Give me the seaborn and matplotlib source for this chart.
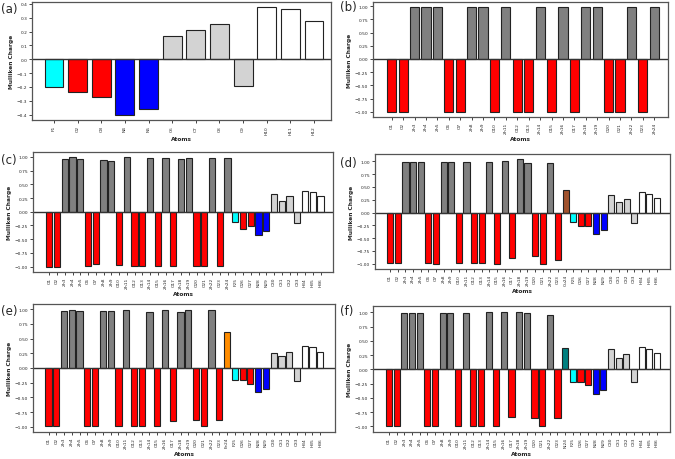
"""
Mulliken charges per atom, six panels
"""
import pandas as pd
import seaborn as sns
import matplotlib.pyplot as plt

# atom labels
atoms_a = ['F1', 'O2', 'O3', 'N4', 'N5', 'C6', 'C7', 'C8', 'C9', 'H10', 'H11', 'H12']
atoms_b = ['O1', 'O2', 'Zn3', 'Zn4', 'Zn5', 'O6', 'O7', 'Zn8', 'Zn9', 'O10', 'Zn11', 'O12',
           'O13', 'Zn14', 'O15', 'Zn16', 'O17', 'Zn18', 'Zn19', 'O20', 'O21', 'Zn22', 'O23', 'Zn24']
tail = ['F25', 'O26', 'O27', 'N28', 'N29', 'C30', 'C31', 'C32', 'C33', 'H34', 'H35', 'H36']
atoms_c = atoms_b + tail
atoms_d = atoms_b[:-1] + ['Cu24'] + tail
atoms_e = atoms_b[:-1] + ['Fe24'] + tail
atoms_f = atoms_b[:-1] + ['Ni24'] + tail

# charges
charge_a = [-0.20, -0.24, -0.27, -0.40, -0.36, 0.17, 0.21, 0.255, -0.19, 0.375, 0.36, 0.28]
charge_b = [-1.0, -1.0, 0.98, 0.98, 0.98, -1.0, -1.0, 0.98, 0.98, -1.0, 0.98, -1.0,
            -1.0, 0.98, -1.0, 0.98, -1.0, 0.98, 0.98, -1.0, -1.0, 0.98, -1.0, 0.98]
charge_c = [-1.0, -1.0, 0.96, 0.99, 0.97, -0.99, -0.95, 0.94, 0.93, -0.98, 0.99, -0.99,
            -0.99, 0.98, -0.99, 0.98, -0.99, 0.97, 0.98, -0.99, -0.99, 0.98, -0.99, 0.98,
            -0.19, -0.31, -0.26, -0.42, -0.35, 0.32, 0.20, 0.29, -0.21, 0.38, 0.36, 0.29]
charge_d = [-0.99, -0.99, 0.99, 0.98, 0.98, -0.99, -1.0, 0.98, 0.98, -0.99, 0.99, -0.99,
            -0.99, 0.99, -1.0, 1.0, -0.88, 1.04, 0.97, -0.85, -1.0, 0.97, -0.93, 0.44,
            -0.19, -0.27, -0.27, -0.41, -0.35, 0.35, 0.20, 0.26, -0.21, 0.41, 0.36, 0.28]
charge_e = [-0.99, -0.99, 0.97, 0.98, 0.97, -0.99, -0.99, 0.97, 0.97, -0.98, 0.98, -0.99,
            -0.98, 0.96, -0.98, 0.99, -0.90, 0.95, 0.99, -0.89, -0.98, 0.98, -0.88, 0.61,
            -0.20, -0.20, -0.27, -0.41, -0.35, 0.26, 0.20, 0.27, -0.22, 0.37, 0.35, 0.27]
charge_f = [-0.99, -1.0, 0.98, 0.99, 0.98, -0.99, -1.0, 0.98, 0.98, -0.99, 0.98, -0.99,
            -0.99, 1.0, -0.99, 1.01, -0.83, 1.01, 0.99, -0.85, -1.0, 0.95, -0.85, 0.37,
            -0.22, -0.22, -0.27, -0.43, -0.36, 0.35, 0.19, 0.27, -0.22, 0.39, 0.36, 0.28]

element_colors = {
    'O': 'red', 'Zn': 'grey', 'F': 'cyan', 'N': 'blue', 'C': 'lightgrey', 'H': 'white',
    'Cu': 'sienna', 'Fe': 'darkorange', 'Ni': 'teal',
}

W, H = 675, 460


def px_axes(fig, left, right, top, bottom):
    return fig.add_axes([left / W, 1 - bottom / H, (right - left) / W, (bottom - top) / H])


def draw_panel(ax, atoms, charges, xlim):
    df = pd.DataFrame({'atom': atoms, 'charge': charges})
    colors = [element_colors[a.rstrip('0123456789')] for a in atoms]
    sns.barplot(df, x='atom', y='charge', hue='atom', palette=colors, legend=False,
                saturation=1, edgecolor='#222222', linewidth=0.8, width=0.8, ax=ax)
    ax.axhline(0, color='#333333', linewidth=1)
    ax.set_xlim(xlim)
    ax.tick_params(axis='x', labelrotation=90, labelsize=3.2, length=2, width=0.6, pad=1.5)
    ax.tick_params(axis='y', labelsize=3.2, length=2, width=0.6, pad=1.5)
    ax.set_xlabel('Atoms', fontsize=4.2, fontweight='bold', labelpad=2)
    ax.set_ylabel('Mulliken Charge', fontsize=4.2, fontweight='bold', labelpad=2)
    for s in ax.spines.values():
        s.set_color('#555555')
        s.set_linewidth(0.9)


sns.set_style('ticks')
fig = plt.figure(figsize=(6.75, 4.6), dpi=100)

panels = [
    ('(a)', atoms_a, charge_a, (-0.93, 11.72), (32, 331, 3, 121), (1, 10)),
    ('(b)', atoms_b, charge_b, (-1.64, 24.2), (373, 668, 3, 118), (340, 8)),
    ('(c)', atoms_c, charge_c, (-2.1, 36.6), (33, 333, 153, 273), (1, 161)),
    ('(d)', atoms_d, charge_d, (-2.0, 36.7), (375, 670, 155, 270), (340, 163)),
    ('(e)', atoms_e, charge_e, (-2.0, 36.9), (33, 335, 305, 433), (1, 312)),
    ('(f)', atoms_f, charge_f, (-2.1, 36.7), (373, 670, 307, 433), (340, 312)),
]

for tag, atoms, charges, xlim, box, pos in panels:
    ax = px_axes(fig, *box)
    draw_panel(ax, atoms, charges, xlim)
    fig.text(pos[0] / W, 1 - pos[1] / H, tag, fontsize=8.5, ha='left', va='center')

fig.savefig('out.png', dpi=100)
